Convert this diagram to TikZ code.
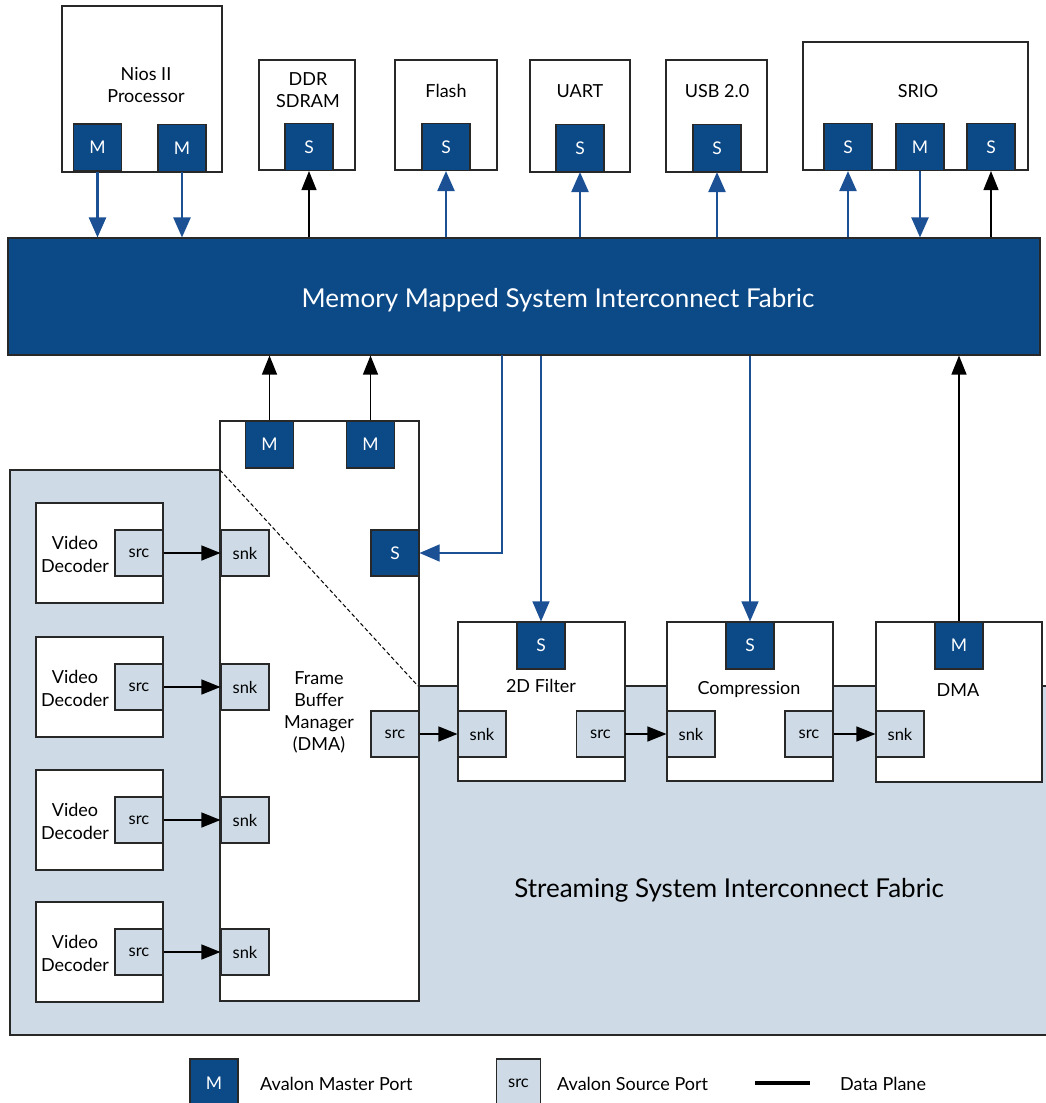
\documentclass[tikz,border=0pt]{standalone}
\usepackage{fontspec}
\setmainfont{Lato}
\usetikzlibrary{arrows.meta}
\definecolor{dkblue}{RGB}{11,73,135}
\definecolor{arblue}{RGB}{28,80,148}
\definecolor{ltblue}{RGB}{206,219,231}
\definecolor{edge}{RGB}{40,40,40}
\begin{document}
\begin{tikzpicture}[x=1pt,y=-1pt,
  box/.style={draw=edge,line width=1.1pt,fill=white,inner sep=0pt},
  mport/.style={draw=edge,line width=1.1pt,fill=dkblue,text=white,minimum width=48pt,minimum height=47pt,inner sep=0pt,font=\fontsize{17.5}{20}\selectfont},
  lport/.style={draw=edge,line width=1.1pt,fill=ltblue,text=black,minimum width=48pt,minimum height=46pt,inner sep=0pt,font=\fontsize{16.5}{20}\selectfont},
  lbl/.style={align=center,inner sep=0pt,font=\fontsize{18}{22.5}\selectfont},
  big/.style={inner sep=0pt,font=\fontsize{26}{30}\selectfont},
  thickblue/.style={draw=arblue,line width=2.4pt,-{Triangle[length=20pt,width=17pt]}},
  thinblue/.style={draw=arblue,line width=1.1pt,-{Triangle[length=20pt,width=17pt]}},
  thinblack/.style={draw=black,line width=1.3pt,-{Triangle[length=19pt,width=15pt]}},
]
\useasboundingbox (0,0) rectangle (1045,1103);
\fill[white] (0,0) rectangle (1045,1103);

% streaming region
\fill[ltblue] (10,470) -- (220,470) -- (418,686) -- (1050,686) -- (1050,1035) -- (10,1035) -- cycle;
\draw[edge,line width=1.1pt] (220,470) -- (10,470) -- (10,1035) -- (1050,1035);
\draw[edge,line width=1.1pt] (418,686) -- (1050,686);
\node[big] (sfab) at (729,890) {Streaming System Interconnect Fabric};

% memory mapped fabric
\node[draw=edge,line width=1.1pt,fill=dkblue,minimum width=1032pt,minimum height=117pt,inner sep=0pt] (fab) at (524,296.5) {};
\node[big,text=white] (fabt) at (558,300) {Memory Mapped System Interconnect Fabric};

% top components
\node[box,minimum width=160pt,minimum height=166pt] (nios) at (142,89) {};
\node[lbl] (niost) at (146,85) {Nios II\\Processor};
\node[mport] (niosm1) at (97.5,147.5) {M};
\node[mport] (niosm2) at (182,148) {M};

\node[box,minimum width=96pt,minimum height=110pt] (ddr) at (307,115) {};
\node[lbl] (ddrt) at (308,90) {DDR\\SDRAM};
\node[mport] (ddrs) at (309,147) {S};

\node[box,minimum width=102pt,minimum height=110pt] (flash) at (446,115) {};
\node[lbl] (flasht) at (446,91) {Flash};
\node[mport] (flashs) at (446,147) {S};

\node[box,minimum width=100pt,minimum height=112pt] (uart) at (580,116) {};
\node[lbl] (uartt) at (580,91) {UART};
\node[mport] (uarts) at (580,148) {S};

\node[box,minimum width=101pt,minimum height=112pt] (usb) at (716.5,116) {};
\node[lbl] (usbt) at (717,91) {USB 2.0};
\node[mport] (usbs) at (717,148) {S};

\node[box,minimum width=225pt,minimum height=128pt] (srio) at (915.5,106) {};
\node[lbl] (sriot) at (918,91) {SRIO};
\node[mport] (srios1) at (848,147) {S};
\node[mport] (sriom) at (920,147) {M};
\node[mport] (srios2) at (991,147) {S};

% top connectors
\draw[thickblue] (niosm1.south) -- (niosm1.south |- fab.north);
\draw[thickblue] (niosm2.south) -- (niosm2.south |- fab.north);
\draw[thinblack] (ddrs.south |- fab.north) -- (ddrs.south);
\draw[thickblue] (flashs.south |- fab.north) -- (flashs.south);
\draw[thickblue] (uarts.south |- fab.north) -- (uarts.south);
\draw[thickblue] (usbs.south |- fab.north) -- (usbs.south);
\draw[thickblue] (srios1.south |- fab.north) -- (srios1.south);
\draw[thickblue] (sriom.south) -- (sriom.south |- fab.north);
\draw[thinblack] (srios2.south |- fab.north) -- (srios2.south);

% frame buffer manager
\node[box,minimum width=199pt,minimum height=580pt] (fbm) at (319.5,711) {};
\node[lbl,font=\fontsize{18}{22}\selectfont] (fbmt) at (319,712) {Frame\\Buffer\\Manager\\(DMA)};
\node[mport] (fbmm1) at (269.5,444.5) {M};
\node[mport] (fbmm2) at (370.5,444.5) {M};
\node[mport,minimum height=46pt] (fbms) at (395,553) {S};
\node[lport] (fbmsrc) at (395,734) {src};
\draw[black,line width=1pt,dash pattern=on 4pt off 2.5pt] (220,470) -- (418,686);

% video decoders
\foreach \i/\y in {1/553,2/687,3/820,4/952}{
  \node[box,minimum width=127pt,minimum height=100pt] (vd\i) at (99.5,\y) {};
  \node[lbl,font=\fontsize{18}{23}\selectfont] (vdt\i) at (75,\y+1) {Video\\Decoder};
  \node[lport] (vdsrc\i) at (139,\y) {src};
  \node[lport] (fbmsnk\i) at (245,\y) {snk};
  \draw[thinblack] (vdsrc\i.east) -- (fbmsnk\i.west);
}

% streaming components
\node[box,minimum width=167pt,minimum height=159pt] (filt) at (541.5,701.5) {};
\node[lbl] (filtt) at (541,686) {2D Filter};
\node[mport] (filts) at (541,645.5) {S};
\node[lport] (filtsnk) at (482,734) {snk};
\node[lport] (filtsrc) at (600.5,734) {src};

\node[box,minimum width=166pt,minimum height=159pt] (comp) at (750,701.5) {};
\node[lbl] (compt) at (749,689) {Compression};
\node[mport] (comps) at (750,645.5) {S};
\node[lport] (compsnk) at (691,734) {snk};
\node[lport] (compsrc) at (809,734) {src};

\node[box,minimum width=166pt,minimum height=160pt] (dma) at (959,702) {};
\node[lbl] (dmat) at (958,690) {DMA};
\node[mport] (dmam) at (959,645.5) {M};
\node[lport] (dmasnk) at (900,734) {snk};

\draw[thinblack] (fbmsrc.east) -- (filtsnk.west);
\draw[thinblack] (filtsrc.east) -- (compsnk.west);
\draw[thinblack] (compsrc.east) -- (dmasnk.west);

% lower connectors to fabric
\draw[thinblack] (fbmm1.north) -- (fbmm1.north |- fab.south);
\draw[thinblack] (fbmm2.north) -- (fbmm2.north |- fab.south);
\coordinate (tapa) at (502,355);
\draw[thinblue] (tapa) |- (fbms.east);
\draw[thinblue] (filts.north |- fab.south) -- (filts.north);
\draw[thinblue] (comps.north |- fab.south) -- (comps.north);
\draw[thinblack] (dmam.north) -- (dmam.north |- fab.south);

% legend
\node[mport,minimum height=48pt] (legm) at (214,1083) {M};
\node[lbl,anchor=west] (legmt) at (260,1084) {Avalon Master Port};
\node[lport,minimum width=44pt,minimum height=48pt] (legs) at (518.5,1083) {src};
\node[lbl,anchor=west] (legst) at (557,1084) {Avalon Source Port};
\coordinate (dpa) at (755,1083);
\coordinate (dpb) at (810,1083);
\draw[black,line width=3.5pt] (dpa) -- (dpb);
\node[lbl,anchor=west] (legdt) at (840,1084) {Data Plane};
\end{tikzpicture}
\end{document}
